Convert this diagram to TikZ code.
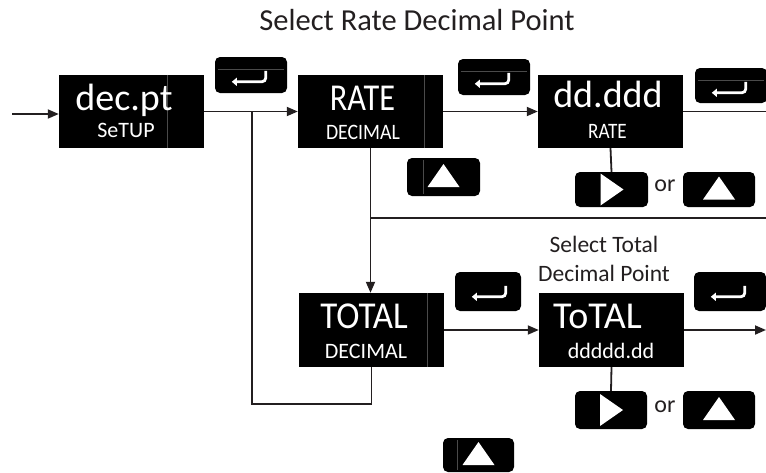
\documentclass[tikz,border=0pt]{standalone}
\usepackage{fontspec}
\setmainfont{Carlito}
\usetikzlibrary{arrows.meta,calc}
\definecolor{lc}{HTML}{231F20}
\definecolor{dv}{HTML}{4A4A4A}
\newcommand\sx[2]{\scalebox{#1}[1]{#2}}
\newcommand\entglyph[1]{%
  \draw[glyph] ($(#1.north west)+(51,14)$) -- ($(#1.north west)+(51,25)$) -- ($(#1.north west)+(17,25)$);}
\newcommand\entline[1]{%
  \draw[divl] ($(#1.north west)+(3,13)$) -- ($(#1.north east)+(-3,13)$);}
\newcommand\upglyph[1]{%
  \fill[white] ($(#1)+(-16,10)$) -- ($(#1)+(16,10)$) -- ($(#1)+(0,-13)$) -- cycle;}
\newcommand\rtglyph[1]{%
  \fill[white] ($(#1)+(-11,-16)$) -- ($(#1)+(-11,16)$) -- ($(#1)+(12,0)$) -- cycle;}
\begin{document}
\begin{tikzpicture}[x=1pt,y=-1pt,
  conn/.style={draw=lc, line width=1.8pt},
  arr/.style={conn, -{Triangle[length=11pt,width=9pt]}},
  disp/.style={fill=black, draw=none, minimum width=145pt, minimum height=73pt, inner sep=0pt},
  btn/.style={fill=black, draw=none, rounded corners=5pt, inner sep=0pt},
  big/.style={text=white, anchor=base, inner sep=0pt, font=\fontsize{38}{38}\selectfont},
  small/.style={text=white, anchor=base, inner sep=0pt, font=\fontsize{22}{22}\selectfont},
  glyph/.style={draw=white, line width=2.8pt, rounded corners=4pt, -{Triangle[length=5pt,width=8pt]}},
  divl/.style={draw=dv, line width=1.2pt},
  lbl/.style={text=lc, inner sep=0pt}]
\useasboundingbox (0,0) rectangle (766,472);

% title
\node[lbl, anchor=base, font=\fontsize{30.5}{30.5}\selectfont] (title) at (417,30) {Select Rate Decimal Point};

% displays
\node[disp] (dec) at (131.5,111.5) {};
\node[disp] (rate) at (370.5,111.5) {};
\node[disp] (ddd) at (610.5,111.5) {};
\node[disp, minimum height=74pt] (total) at (371.5,330) {};
\node[disp, minimum height=74pt] (ttotal) at (611.5,330) {};

\draw[divl] ([xshift=109pt]dec.north west) -- ([xshift=109pt]dec.south west);
\draw[divl] ([xshift=127pt]rate.north west) -- ([xshift=127pt]rate.south west);
\draw[divl] ([xshift=129pt]total.north west) -- ([xshift=129pt]total.south west);

\node[big] (dec-a) at (124,110) {dec.pt};
\node[small] (dec-b) at (126,137) {SeTUP};
\node[big] (rate-a) at (362.5,110) {\sx{0.85}{RATE}};
\node[small] (rate-b) at (363,139) {\sx{0.9}{DECIMAL}};
\node[big] (ddd-a) at (608,107) {dd.ddd};
\node[small] (ddd-b) at (607.5,138) {\sx{0.87}{RATE}};
\node[big] (total-a) at (364,328) {\sx{0.92}{TOTAL}};
\node[small] (total-b) at (366,358.5) {DECIMAL};
\node[big] (ttotal-a) at (597.5,328) {ToTAL};
\node[small] (ttotal-b) at (611,358.5) {ddddd.dd};

% enter buttons
\node[btn, minimum width=72pt, minimum height=36pt] (e1) at (251,75) {};
\node[btn, minimum width=72pt, minimum height=36pt] (e2) at (494,77) {};
\node[btn, minimum width=72pt, minimum height=35pt] (e3) at (731,85.5) {};
\node[btn, minimum width=66pt, minimum height=39pt] (e4) at (488,291.5) {};
\node[btn, minimum width=72pt, minimum height=39pt] (e5) at (730,291.5) {};
\entline{e1}\entline{e2}\entline{e3}
\entglyph{e1}\entglyph{e2}\entglyph{e3}\entglyph{e4}\entglyph{e5}

% arrow buttons
\node[btn, minimum width=73pt, minimum height=38pt] (u1) at (443.5,177) {};
\node[btn, minimum width=73pt, minimum height=35pt] (rb1) at (611.5,189.5) {};
\node[btn, minimum width=72pt, minimum height=35pt] (ub1) at (719,189.5) {};
\node[btn, minimum width=72pt, minimum height=38pt] (rb2) at (611,410) {};
\node[btn, minimum width=72pt, minimum height=38pt] (ub2) at (719,410) {};
\node[btn, minimum width=71pt, minimum height=34pt] (u2) at (478.5,455) {};
\draw[divl] ($(u1.north west)+(17,2)$) -- ($(u1.south west)+(17,-2)$);
\draw[divl] ($(u2.north west)+(15,2)$) -- ($(u2.south west)+(15,-2)$);
\upglyph{u1}\upglyph{ub1}\upglyph{ub2}\upglyph{u2}
\rtglyph{rb1}\rtglyph{rb2}

\node[lbl, anchor=mid, font=\fontsize{24}{24}\selectfont] (or1) at (665,189.5) {or};
\node[lbl, anchor=mid, font=\fontsize{24}{24}\selectfont] (or2) at (665,410) {or};

\node[lbl, anchor=base, font=\fontsize{23.5}{23.5}\selectfont] (st1) at (604,252.5) {Select Total};
\node[lbl, anchor=base, font=\fontsize{23.5}{23.5}\selectfont] (st2) at (604,281.5) {Decimal Point};

% connectors
\coordinate (in) at (12,114);
\draw[arr] (in) -- (in -| dec.west);
\draw[arr] (dec.east) -- (rate.west);
\draw[arr] (rate.east) -- (ddd.west);
\coordinate (o1) at (770,111.5);
\draw[conn] (ddd.east) -- (o1);
\draw[conn] (ddd.south) -- (rb1.north);
\draw[arr] (rate.south) -- (rate.south |- total.north);
\coordinate (o2) at (770,218);
\draw[conn] (o2) -- (o2 -| rate.south);
\draw[arr] (total.east) -- (ttotal.west);
\coordinate (o3) at (766,330);
\draw[arr] (ttotal.east) -- (o3);
\draw[conn] (ttotal.south) -- (rb2.north);
\coordinate (lp) at (252,404);
\draw[conn] (total.south) |- (lp) -- (lp |- dec.east);
\end{tikzpicture}
\end{document}
